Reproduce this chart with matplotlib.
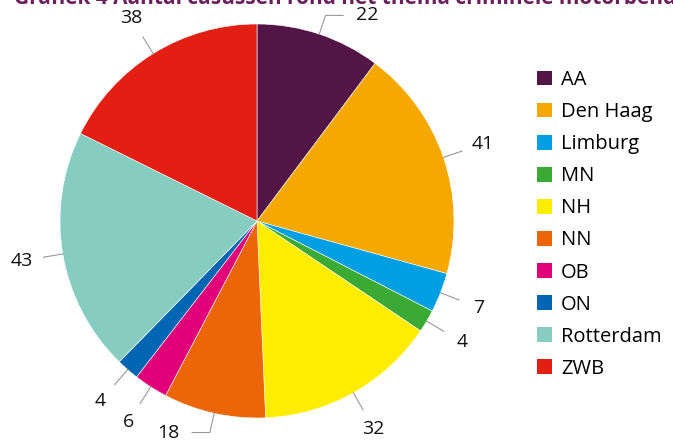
import matplotlib.pyplot as plt
from matplotlib.patches import Patch
import numpy as np

plt.rcParams['font.family'] = ['Open Sans', 'DejaVu Sans']

# data
regions = ['AA', 'Den Haag', 'Limburg', 'MN', 'NH', 'NN', 'OB', 'ON',
           'Rotterdam', 'ZWB']
cases = [22, 41, 7, 4, 32, 18, 6, 4, 43, 38]
colors = ['#521545', '#f5a800', '#009fe3', '#3aaa35', '#ffed00',
          '#ec6608', '#e2007a', '#0066b3', '#87ccc1', '#e31e13']
title = 'Grafiek 4 Aantal casussen rond het thema criminele motorbendes per eenheid'

W, H = 673, 446
cx, cy, R = 257, 221, 197

fig = plt.figure(figsize=(W / 100, H / 100), dpi=100)
ax = fig.add_axes([0, 0, 1, 1])

wedges, _ = ax.pie(cases, colors=colors, startangle=90, counterclock=False,
                   radius=1, wedgeprops=dict(edgecolor='white', linewidth=0.4))

ax.set_xlim(-cx / R, (W - cx) / R)
ax.set_ylim(-(H - cy) / R, cy / R)
ax.set_aspect('equal')
ax.axis('off')

# leader lines + value labels
for w, v in zip(wedges, cases):
    ang = np.deg2rad((w.theta1 + w.theta2) / 2)
    c, s = np.cos(ang), np.sin(ang)
    xs = [c * 1.0, c * 1.1]
    ys = [s * 1.0, s * 1.1]
    if abs(s) > 0.94:
        side = np.sign(c)
        xs.append(c * 1.1 + side * 0.09)
        ys.append(s * 1.1)
        tx, ty = xs[-1] + side * 0.12, ys[-1]
    else:
        tx, ty = c * 1.21, s * 1.21
    ax.plot(xs, ys, color='#999999', lw=0.8)
    ax.text(tx, ty, str(v), ha='center', va='center', fontsize=14,
            color='#111111')

handles = [Patch(facecolor=col, edgecolor='none') for col in colors]
fig.legend(handles, regions, loc='upper left',
           bbox_to_anchor=(529 / W, 1 - 62 / H), frameon=False,
           fontsize=14.5, handlelength=0.75, handleheight=0.75,
           handletextpad=0.45, labelspacing=0.6, borderaxespad=0)

fig.text(14 / W, 1 - 4 / H, title, fontsize=15, fontweight='bold',
         color='#6b1f5c', va='baseline', ha='left')

fig.savefig('out.png', dpi=100)
